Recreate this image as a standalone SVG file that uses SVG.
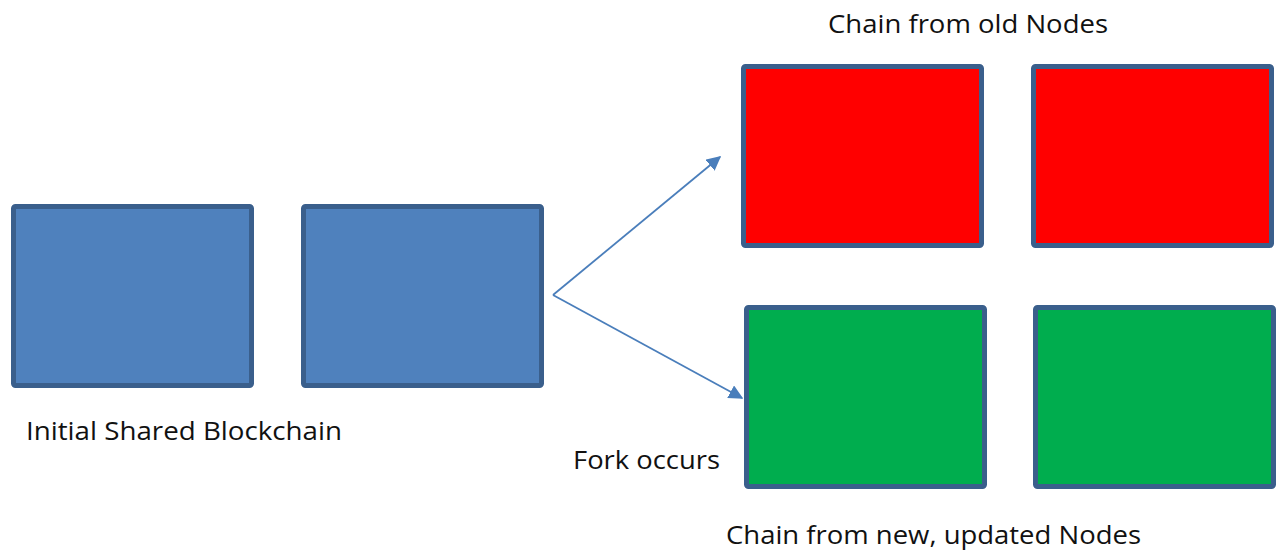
<svg xmlns="http://www.w3.org/2000/svg" width="1276" height="552" viewBox="0 0 1276 552">
  <style>
    .block { stroke: #3a5f8c; stroke-width: 5; }
    .shared { fill: #4f81bd; }
    .old { fill: #ff0000; }
    .new { fill: #00ad4e; }
    .label { font-family: "Open Sans", "Noto Sans", "Liberation Sans", sans-serif; font-size: 26px; fill: #111111; }
    .link { stroke: #4a7ebb; stroke-width: 1.8; fill: none; }
  </style>
  <defs>
    <marker id="arrow" viewBox="0 0 10 10" refX="9" refY="5" markerWidth="8" markerHeight="8" markerUnits="strokeWidth" orient="auto">
      <path d="M0,0 L10,5 L0,10 Z" fill="#4a7ebb"/>
    </marker>
  </defs>
  <rect width="1276" height="552" fill="#ffffff"/>

  <g id="shared-block-1">
    <rect class="block shared" x="13.5" y="206.5" width="238" height="179" rx="2"/>
  </g>
  <g id="shared-block-2">
    <rect class="block shared" x="303.5" y="206.5" width="238" height="179" rx="2"/>
  </g>
  <g id="old-block-1">
    <rect class="block old" x="743.5" y="66.5" width="238" height="179" rx="2"/>
  </g>
  <g id="old-block-2">
    <rect class="block old" x="1033.5" y="66.5" width="238" height="179" rx="2"/>
  </g>
  <g id="new-block-1">
    <rect class="block new" x="746.5" y="307.5" width="238" height="179" rx="2"/>
  </g>
  <g id="new-block-2">
    <rect class="block new" x="1035.5" y="307.5" width="238" height="179" rx="2"/>
  </g>

  <g id="connectors">
    <line class="link" x1="553" y1="295" x2="720" y2="157" marker-end="url(#arrow)"/>
    <line class="link" x1="553" y1="295" x2="742" y2="398" marker-end="url(#arrow)"/>
  </g>

  <g id="labels">
    <text class="label" x="828" y="33" textLength="280" lengthAdjust="spacingAndGlyphs">Chain from old Nodes</text>
    <text class="label" x="26" y="440" textLength="316" lengthAdjust="spacingAndGlyphs">Initial Shared Blockchain</text>
    <text class="label" x="573" y="469" textLength="147" lengthAdjust="spacingAndGlyphs">Fork occurs</text>
    <text class="label" x="726" y="544" textLength="415" lengthAdjust="spacingAndGlyphs">Chain from new, updated Nodes</text>
  </g>
</svg>
